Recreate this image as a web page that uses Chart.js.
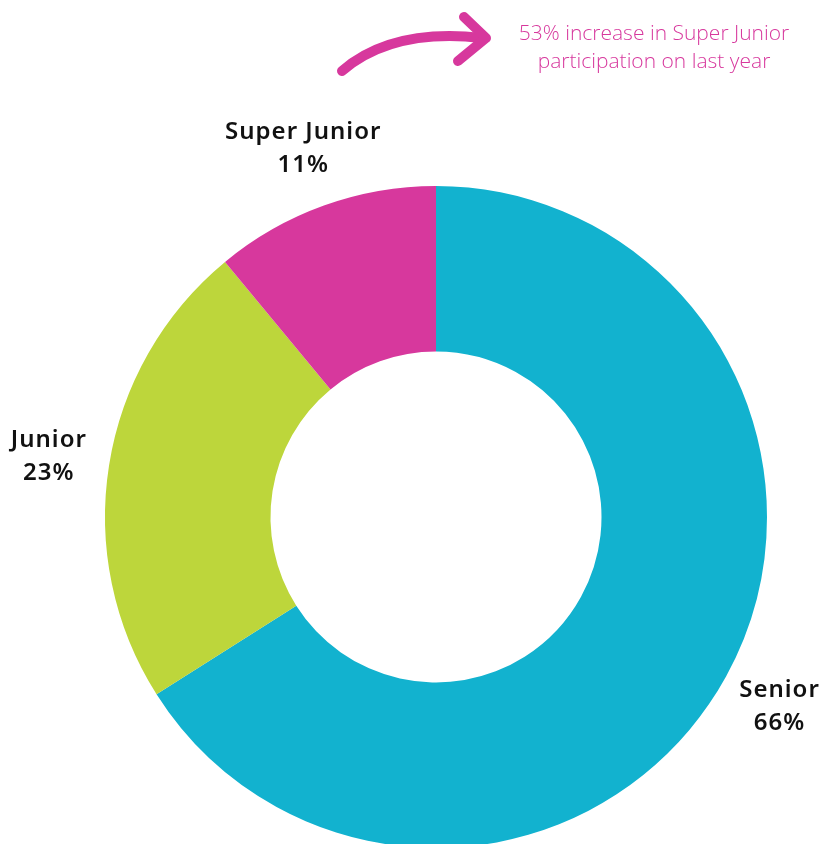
<!DOCTYPE html>
<html>
<head>
<meta charset="utf-8">
<script src="https://cdn.jsdelivr.net/npm/chart.js@4.4.1/dist/chart.umd.min.js"></script>
<style>
    html, body { margin: 0; padding: 0; background: #fff; overflow: hidden; }
    #wrap { position: relative; width: 825px; height: 870px; }
</style>
</head>
<body>
<div id="wrap"><canvas id="groupChart"></canvas></div>
<script>
const groups = ['Senior', 'Junior', 'Super Junior']
const shares = [66, 23, 11]
const colours = ['#12B2CF', '#BDD63B', '#D7389D']
const noteLines = ['53% increase in Super Junior', 'participation on last year']

const labelFont = '600 24px "Noto Sans", sans-serif'

// labels outside each slice, placed along the slice's middle angle
const outsideLabels = {
    id: 'outsideLabels',
    afterDraw(chart) {
        const ctx = chart.ctx
        const meta = chart.getDatasetMeta(0)
        ctx.save()
        ctx.font = labelFont
        ctx.letterSpacing = '1px'
        ctx.fillStyle = '#111'
        ctx.textAlign = 'center'
        ctx.textBaseline = 'middle'
        meta.data.forEach((arc, i) => {
            const p = arc.getProps(['x', 'y', 'startAngle', 'endAngle', 'outerRadius'], true)
            const mid = (p.startAngle + p.endAngle) / 2
            const r = p.outerRadius + 61
            const x = p.x + Math.cos(mid) * r
            const y = p.y + Math.sin(mid) * r
            ctx.fillText(groups[i], x, y - 16)
            ctx.fillText(shares[i] + '%', x, y + 17)
        })
        ctx.restore()
    }
}

// the pink note with its brush arrow at the top
const note = {
    id: 'note',
    afterDraw(chart) {
        const ctx = chart.ctx
        ctx.save()
        ctx.strokeStyle = '#D7389D'
        ctx.lineCap = 'round'
        ctx.lineJoin = 'round'
        ctx.lineWidth = 10
        ctx.beginPath()
        ctx.moveTo(342, 71)
        ctx.quadraticCurveTo(392, 28, 482, 38)
        ctx.stroke()
        ctx.beginPath()
        ctx.moveTo(464, 17)
        ctx.lineTo(486, 38)
        ctx.lineTo(458, 61)
        ctx.stroke()

        ctx.font = '300 21px "Open Sans", sans-serif'
        ctx.fillStyle = '#D7389D'
        ctx.textAlign = 'center'
        ctx.textBaseline = 'middle'
        ctx.fillText(noteLines[0], 654, 34)
        ctx.fillText(noteLines[1], 654, 62)
        ctx.restore()
    }
}

const ctx = document.getElementById('groupChart').getContext('2d')

new Chart(ctx, {
    type: 'doughnut',
    data: {
        labels: groups,
        datasets: [{
            data: shares,
            backgroundColor: colours,
            borderWidth: 0,
        }]
    },
    options: {
        responsive: true,
        maintainAspectRatio: false,
        animation: false,
        cutout: '50%',
        layout: {
            padding: { top: 186, bottom: 22, left: 105, right: 58 }
        },
        plugins: {
            legend: { display: false },
            tooltip: { enabled: false }
        }
    },
    plugins: [outsideLabels, note]
});
</script>
</body>
</html>
